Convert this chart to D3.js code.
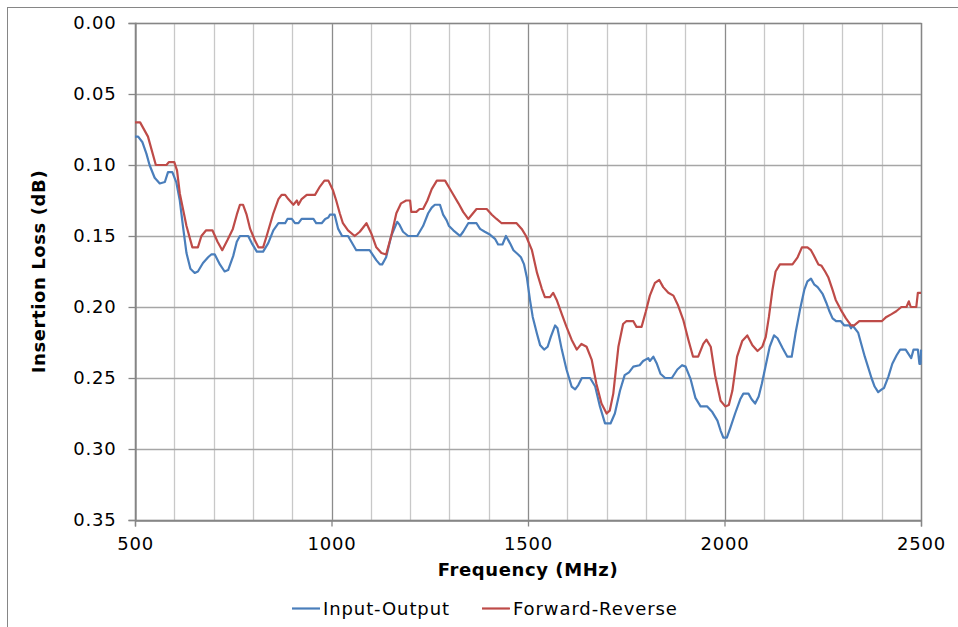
<!DOCTYPE html>
<html lang="en">
<head>
    <meta charset="UTF-8">
    <title>Insertion Loss</title>
    <script src="https://d3js.org/d3.v7.min.js"></script>
    <style>
        body { margin: 0; background: #fff; }
        text { font-family: "DejaVu Sans", Verdana, sans-serif; fill: #000; }
        .tick text { font-size: 18px; letter-spacing: 0.8px; }
        .title { font-size: 18px; font-weight: bold; letter-spacing: 0.6px; }
        .legend { font-size: 18px; letter-spacing: 0.9px; }
    </style>
</head>
<body>
<script>
    // x axis / y axis settings
    const xTicks = [500, 1000, 1500, 2000, 2500];
    const xGrid = d3.range(500, 2501, 100);
    const yTicks = [0, 0.05, 0.10, 0.15, 0.20, 0.25, 0.30, 0.35];
    const seriesNames = ['Input-Output', 'Forward-Reverse'];
    const seriesColors = ['#4A7EBB', '#BE4B48'];

    // Input-Output (MHz, dB)
    const ioFreq = [500, 508, 519, 529, 537, 550, 563, 576, 584, 595, 605, 614, 622, 631, 641, 652, 660, 673, 686, 694,
        703, 716, 728, 737, 750, 759, 767, 788, 797, 810, 826, 839, 852, 865, 882, 888, 899, 907, 916, 924,
        954, 961, 975, 984, 992, 996, 1008, 1017, 1027, 1042, 1063, 1097, 1114, 1123, 1129, 1139, 1152, 1167, 1173, 1182,
        1195, 1218, 1233, 1246, 1255, 1263, 1276, 1284, 1293, 1299, 1310, 1323, 1327, 1335, 1348, 1369, 1378, 1390, 1403, 1416,
        1424, 1435, 1444, 1454, 1463, 1475, 1482, 1490, 1497, 1505, 1512, 1523, 1531, 1541, 1550, 1558, 1569, 1575, 1586, 1598,
        1611, 1620, 1628, 1637, 1658, 1671, 1683, 1696, 1710, 1721, 1734, 1746, 1757, 1768, 1784, 1793, 1806, 1810, 1819, 1828,
        1837, 1849, 1866, 1880, 1892, 1901, 1914, 1926, 1939, 1956, 1969, 1982, 1990, 1997, 2006, 2015, 2027, 2040, 2048, 2061,
        2069, 2078, 2087, 2095, 2105, 2115, 2126, 2135, 2148, 2160, 2171, 2181, 2192, 2203, 2211, 2220, 2228, 2237, 2245, 2250,
        2259, 2267, 2275, 2284, 2296, 2305, 2318, 2322, 2326, 2340, 2348, 2357, 2365, 2374, 2382, 2391, 2400, 2406, 2417, 2427,
        2438, 2447, 2461, 2468, 2475, 2481, 2492, 2496, 2499, 2500];
    const ioLoss = [0.080, 0.080, 0.084, 0.092, 0.100, 0.109, 0.113, 0.112, 0.105, 0.105, 0.112, 0.125, 0.143, 0.162, 0.173, 0.176, 0.175, 0.169, 0.165, 0.163,
        0.163, 0.170, 0.175, 0.174, 0.164, 0.154, 0.150, 0.150, 0.155, 0.161, 0.161, 0.155, 0.146, 0.141, 0.141, 0.138, 0.138, 0.141, 0.141, 0.138,
        0.138, 0.141, 0.141, 0.138, 0.137, 0.135, 0.135, 0.145, 0.150, 0.150, 0.160, 0.160, 0.167, 0.170, 0.170, 0.165, 0.150, 0.140, 0.142, 0.147,
        0.150, 0.150, 0.143, 0.134, 0.130, 0.128, 0.128, 0.135, 0.139, 0.143, 0.146, 0.149, 0.150, 0.147, 0.141, 0.141, 0.145, 0.147, 0.149, 0.152,
        0.156, 0.156, 0.150, 0.155, 0.160, 0.163, 0.165, 0.170, 0.179, 0.195, 0.207, 0.219, 0.227, 0.230, 0.228, 0.221, 0.213, 0.215, 0.230, 0.244,
        0.256, 0.258, 0.255, 0.250, 0.250, 0.256, 0.270, 0.282, 0.282, 0.275, 0.259, 0.248, 0.246, 0.242, 0.241, 0.238, 0.236, 0.238, 0.235, 0.240,
        0.247, 0.250, 0.250, 0.244, 0.241, 0.242, 0.251, 0.264, 0.270, 0.270, 0.274, 0.280, 0.287, 0.292, 0.292, 0.285, 0.275, 0.265, 0.261, 0.261,
        0.265, 0.268, 0.263, 0.254, 0.241, 0.228, 0.220, 0.222, 0.229, 0.235, 0.235, 0.218, 0.202, 0.188, 0.182, 0.180, 0.184, 0.186, 0.189, 0.191,
        0.197, 0.203, 0.208, 0.210, 0.210, 0.213, 0.213, 0.215, 0.213, 0.218, 0.226, 0.235, 0.242, 0.250, 0.256, 0.260, 0.258, 0.257, 0.249, 0.240,
        0.234, 0.230, 0.230, 0.233, 0.236, 0.230, 0.230, 0.240, 0.240, 0.230];

    // Forward-Reverse (MHz, dB)
    const frFreq = [500, 513, 533, 553, 580, 586, 600, 607, 614, 631, 646, 660, 669, 681, 697, 710, 722, 735, 749, 759,
        767, 775, 784, 793, 805, 814, 826, 835, 852, 865, 873, 882, 890, 903, 912, 916, 924, 937, 958, 971,
        982, 992, 1004, 1012, 1021, 1029, 1042, 1059, 1072, 1089, 1101, 1114, 1127, 1139, 1152, 1165, 1177, 1190, 1200, 1203,
        1216, 1224, 1233, 1244, 1255, 1268, 1289, 1306, 1323, 1335, 1348, 1357, 1369, 1395, 1408, 1420, 1433, 1471, 1484, 1495,
        1510, 1523, 1535, 1543, 1556, 1564, 1573, 1586, 1598, 1611, 1624, 1636, 1649, 1662, 1674, 1687, 1700, 1708, 1717, 1730,
        1742, 1750, 1768, 1776, 1789, 1800, 1810, 1823, 1834, 1844, 1857, 1870, 1882, 1895, 1908, 1920, 1933, 1946, 1954, 1965,
        1976, 1990, 2002, 2011, 2020, 2032, 2045, 2058, 2071, 2084, 2096, 2105, 2113, 2122, 2130, 2141, 2173, 2186, 2197, 2211,
        2220, 2226, 2239, 2247, 2256, 2264, 2275, 2283, 2296, 2309, 2322, 2330, 2343, 2400, 2412, 2425, 2437, 2450, 2463, 2469,
        2474, 2488, 2492, 2500];
    const frLoss = [0.070, 0.070, 0.080, 0.100, 0.100, 0.098, 0.098, 0.104, 0.120, 0.143, 0.158, 0.158, 0.150, 0.146, 0.146, 0.154, 0.160, 0.153, 0.145, 0.135,
        0.128, 0.128, 0.135, 0.145, 0.153, 0.158, 0.158, 0.150, 0.134, 0.124, 0.121, 0.121, 0.124, 0.128, 0.125, 0.128, 0.124, 0.121, 0.121, 0.115,
        0.111, 0.111, 0.118, 0.125, 0.134, 0.141, 0.146, 0.150, 0.147, 0.141, 0.148, 0.158, 0.162, 0.163, 0.150, 0.134, 0.127, 0.125, 0.125, 0.133,
        0.133, 0.131, 0.131, 0.125, 0.117, 0.111, 0.111, 0.119, 0.127, 0.133, 0.138, 0.135, 0.131, 0.131, 0.135, 0.138, 0.141, 0.141, 0.145, 0.150,
        0.160, 0.176, 0.187, 0.193, 0.193, 0.190, 0.195, 0.205, 0.214, 0.223, 0.230, 0.226, 0.228, 0.237, 0.254, 0.268, 0.275, 0.273, 0.261, 0.228,
        0.212, 0.210, 0.210, 0.214, 0.214, 0.203, 0.192, 0.183, 0.181, 0.186, 0.190, 0.192, 0.199, 0.209, 0.223, 0.235, 0.235, 0.226, 0.223, 0.228,
        0.248, 0.266, 0.270, 0.269, 0.259, 0.235, 0.224, 0.220, 0.227, 0.231, 0.228, 0.221, 0.207, 0.188, 0.175, 0.170, 0.170, 0.165, 0.158, 0.158,
        0.160, 0.163, 0.170, 0.171, 0.175, 0.179, 0.188, 0.195, 0.202, 0.208, 0.213, 0.213, 0.210, 0.210, 0.207, 0.205, 0.203, 0.200, 0.200, 0.196,
        0.200, 0.200, 0.190, 0.190];

    const width = 958;
    const height = 627;
    const margin = {top: 23, right: 37, bottom: 107, left: 135};

    const svg = d3.select('body').append('svg')
        .attr('width', width)
        .attr('height', height);

    // outer chart frame
    svg.append('rect')
        .attr('x', 7.5).attr('y', 7.5)
        .attr('width', 970).attr('height', 640)
        .attr('fill', 'none')
        .attr('stroke', '#868686');

    const x = d3.scaleLinear().domain([500, 2500]).range([margin.left, width - margin.right]);
    const y = d3.scaleLinear().domain([0, 0.35]).range([margin.top, height - margin.bottom]);

    const grid = svg.append('g').attr('class', 'grid');

    // vertical grid lines, every 100 MHz
    grid.selectAll('line.v')
        .data(xGrid)
        .enter()
        .append('line')
        .attr('class', 'v')
        .attr('x1', d => Math.round(x(d)) + 0.5)
        .attr('x2', d => Math.round(x(d)) + 0.5)
        .attr('y1', y(0))
        .attr('y2', y(0.35))
        .attr('stroke', d => d % 500 === 0 ? '#8c8c8c' : '#c8c8c8')
        .attr('stroke-width', 1.3);

    // horizontal grid lines
    grid.selectAll('line.h')
        .data(yTicks)
        .enter()
        .append('line')
        .attr('class', 'h')
        .attr('x1', x(500))
        .attr('x2', x(2500))
        .attr('y1', d => Math.round(y(d)) + 0.5)
        .attr('y2', d => Math.round(y(d)) + 0.5)
        .attr('stroke', '#a6a6a6')
        .attr('stroke-width', 1.3);

    // plot frame
    svg.append('rect')
        .attr('x', x(500) + 0.5).attr('y', y(0) + 0.5)
        .attr('width', x(2500) - x(500)).attr('height', y(0.35) - y(0))
        .attr('fill', 'none')
        .attr('stroke', '#868686')
        .attr('stroke-width', 1.3);

    // axes
    const yAxis = svg.append('g')
        .attr('transform', 'translate(' + (x(500) + 0.5) + ',0)')
        .call(d3.axisLeft(y).tickValues(yTicks).tickFormat(d3.format('.2f')).tickSize(7).tickPadding(12));

    const xAxis = svg.append('g')
        .attr('transform', 'translate(0,' + (y(0.35) + 0.5) + ')')
        .call(d3.axisBottom(x).tickValues(xTicks).tickFormat(d3.format('d')).tickSize(6).tickPadding(11));

    [xAxis, yAxis].forEach(g => {
        g.select('.domain').attr('stroke', '#868686').attr('stroke-width', 1.3);
        g.selectAll('.tick line').attr('stroke', '#868686').attr('stroke-width', 1.3);
        g.selectAll('.tick text').attr('font-size', null).attr('font-family', null).attr('fill', '#000');
    });
    yAxis.attr('font-size', null).attr('font-family', null);
    xAxis.attr('font-size', null).attr('font-family', null);

    // axis titles
    svg.append('text')
        .attr('class', 'title')
        .attr('x', (x(500) + x(2500)) / 2)
        .attr('y', 576)
        .attr('text-anchor', 'middle')
        .text('Frequency (MHz)');

    svg.append('text')
        .attr('class', 'title')
        .attr('transform', 'translate(45,' + ((y(0) + y(0.35)) / 2) + ') rotate(-90)')
        .attr('text-anchor', 'middle')
        .text('Insertion Loss (dB)');

    // curves
    const line = d3.line()
        .x(d => x(d[0]))
        .y(d => y(d[1]));

    const series = [
        d3.zip(ioFreq, ioLoss),
        d3.zip(frFreq, frLoss)
    ];

    svg.append('g')
        .selectAll('path')
        .data(series)
        .enter()
        .append('path')
        .attr('d', line)
        .attr('fill', 'none')
        .attr('stroke', (d, i) => seriesColors[i])
        .attr('stroke-width', 2.2)
        .attr('stroke-linejoin', 'round');

    // legend
    const legendX = [292, 482];
    const legend = svg.append('g').attr('class', 'legendGroup');
    seriesNames.forEach((name, i) => {
        legend.append('line')
            .attr('x1', legendX[i]).attr('x2', legendX[i] + 28)
            .attr('y1', 608.5).attr('y2', 608.5)
            .attr('stroke', seriesColors[i])
            .attr('stroke-width', 2.2);
        legend.append('text')
            .attr('class', 'legend')
            .attr('x', legendX[i] + 31)
            .attr('y', 615)
            .text(name);
    });
</script>
</body>
</html>
